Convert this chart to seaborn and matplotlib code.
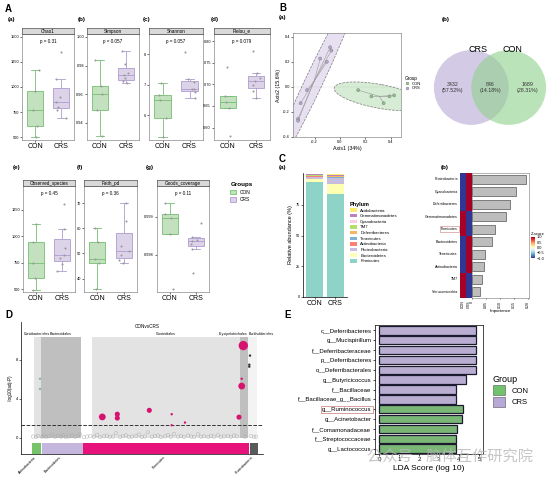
import numpy as np
import pandas as pd
import matplotlib
matplotlib.use("Agg")
import matplotlib.pyplot as plt
import seaborn as sns
from matplotlib.patches import Rectangle, Circle, Ellipse, Patch
from matplotlib.lines import Line2D

# --- A: alpha diversity values ---
groups = ["CON", "CRS"]
chao1_con = [506, 614, 769, 961, 1172]
chao1_crs = [695, 773, 805, 854, 900, 1084, 1351]
simpson_con = [0.931, 0.949, 0.960, 0.9657, 0.9835]
simpson_crs = [0.968, 0.969, 0.971, 0.9736, 0.975, 0.981, 0.990]
shannon_con = [5.31, 5.93, 6.52, 6.67, 7.05]
shannon_crs = [6.56, 6.78, 6.85, 6.88, 7.10, 7.18, 8.07]
pielou_con = [0.580, 0.645, 0.660, 0.674, 0.740]
pielou_crs = [0.668, 0.684, 0.698, 0.709, 0.714, 0.727, 0.777]
observed_con = [495, 611, 744, 950, 1115]
observed_crs = [674, 737, 800, 823, 890, 1068, 1307]
faith_con = [35.7, 46.3, 47.7, 54.6, 60.3]
faith_crs = [46.3, 47.4, 49.4, 51.0, 53.0, 63.0, 70.0]
goods_con = [0.99710, 0.99854, 0.99896, 0.99907, 0.99935]
goods_crs = [0.99753, 0.99815, 0.99829, 0.99837, 0.99840, 0.99848, 0.99883]
alpha_names = ["Chao1", "Simpson", "Shannon", "Pielou_e",
               "Observed_species", "Faith_pd", "Goods_coverage"]
alpha_p = ["p = 0.31", "p = 0.057", "p = 0.057", "p = 0.079",
           "p = 0.45", "p = 0.36", "p = 0.11"]

# --- B(a): PCoA coordinates ---
crs_ax1 = [-0.078, -0.068, -0.156, -0.104, -0.260, -0.310, -0.330, -0.330]
crs_ax2 = [0.316, 0.290, 0.226, 0.200, -0.026, -0.130, -0.255, -0.270]
con_ax1 = [0.143, 0.247, 0.343, 0.390, 0.426]
con_ax2 = [-0.026, -0.076, -0.130, -0.076, -0.068]

# --- B(b): Venn counts ---
venn_labels = ["3432\n(57.52%)", "846\n(14.18%)", "1689\n(28.31%)"]

# --- C(a): phylum composition ---
phylum_names = ["Firmicutes", "Bacteroidetes", "Proteobacteria", "Actinobacteria",
                "Tenericutes", "Deferribacteres", "TM7", "Cyanobacteria",
                "Gemmatimonadetes", "Acidobacteria"]
phylum_con = [94.0, 1.8, 2.3, 0.3, 0.3, 0.1, 0.2, 0.4, 0.5, 0.1]
phylum_crs = [83.7, 8.5, 4.6, 0.4, 0.5, 0.6, 0.3, 0.3, 0.8, 0.3]

# --- C(b): random forest importance + z-score ---
rf_phyla = ["Proteobacteria", "Cyanobacteria", "Deferribacteres", "Gemmatimonadetes",
            "Firmicutes", "Bacteroidetes", "Tenericutes", "Actinobacteria", "TM7",
            "Verrucomicrobia"]
rf_importance = [0.196, 0.158, 0.137, 0.124, 0.083, 0.071, 0.046, 0.042, 0.037, 0.027]
rf_z_con = [-1, -1, -1, 1, 1, -1, -1, -1, 1, 1]
rf_z_crs = [1, 1, 1, -1, -1, 1, 1, 1, -1, -1]

# --- D: manhattan plot ---
d_phyla = ["Actinobacteria", "Bacteroidetes", "Firmicutes", "Proteobacteria"]
d_phyla_n = [9, 41, 166, 8]
d_orders = ["Coriobacteriales", "Bacteroidales", "Clostridiales",
            "Erysipelotrichales", "Burkholderiales"]
d_order_start = [2.0, 8.7, 59.7, 208.0, 216.0]
d_order_end = [8.7, 49.0, 208.0, 216.0, 224.7]
gray_x = [1, 4, 6, 10, 12, 14, 17, 20, 23, 26, 29, 31, 34, 37, 40, 43, 46, 48,
          52, 55, 58, 62, 65, 68, 72, 75, 78, 81, 84, 88, 91, 94, 97, 100, 104,
          107, 110, 113, 116, 120, 123, 126, 129, 133, 136, 139, 142, 146, 149,
          152, 156, 159, 162, 166, 169, 172, 176, 179, 182, 186, 189, 192, 196,
          199, 202, 205, 213, 219, 222, 224]
gray_y = [0.10, 0.05, 0.18, 0.08, 0.22, 0.04, 0.12, 0.30, 0.06, 0.15, 0.09, 0.25,
          0.03, 0.11, 0.20, 0.07, 0.14, 0.35, 0.05, 0.10, 0.16, 0.08, 0.28, 0.04,
          0.12, 0.19, 0.06, 0.10, 0.45, 0.07, 0.13, 0.22, 0.05, 0.09, 0.17, 0.30,
          0.06, 0.11, 0.55, 0.08, 0.14, 0.20, 0.04, 0.12, 0.26, 0.07, 0.38, 0.09,
          0.15, 0.05, 0.21, 0.10, 0.06, 0.32, 0.08, 0.13, 0.05, 0.18, 0.09, 0.24,
          0.06, 0.11, 0.16, 0.07, 0.20, 0.12, 0.08, 0.15, 0.05, 0.10]
sig_x = [8, 8, 70.3, 85.3, 85.3, 117.3, 139.7, 139.7, 153, 207, 211.3, 209.7, 209.7,
         218, 217.3, 217.3]
sig_y = [6.05, 5.0, 2.12, 2.4, 2.0, 2.8, 2.4, 1.26, 1.54, 2.1, 9.47, 5.3, 6.05,
         8.44, 7.5, 7.3]
sig_phylum = ["Actinobacteria", "Actinobacteria"] + ["Firmicutes"] * 11 + ["Proteobacteria"] * 3
sig_abund = [1, 1, 3, 2, 2, 2, 1, 1, 1, 2, 5, 3, 1, 1, 1, 1]

# --- E: LEfSe ---
lda_taxa = ["c__Deferribacteres", "g__Mucispirillum", "f__Deferribacteraceae",
            "p__Deferribacteres", "o__Deferribacterales", "g__Butyricicoccus",
            "f__Bacillaceae", "f__Bacillaceae_g__Bacillus", "g__Ruminococcus",
            "g__Acinetobacter", "f__Comamonadaceae", "f__Streptococcaceae",
            "g__Lactococcus"]
lda_score = [4.83, 4.83, 4.83, 4.83, 4.83, 4.33, 3.83, 3.83, 4.18, 4.15, 3.90, 3.87, 3.83]
lda_group = ["CRS"] * 8 + ["CON"] * 5

W, H = 550, 478
con_fill, con_edge = "#BFE5B9", "#74BF72"
crs_fill, crs_edge = "#DCD0EC", "#AE9CD0"

plt.rcParams["font.family"] = ["Liberation Sans", "Noto Sans CJK SC"]
fig = plt.figure(figsize=(5.5, 4.78), dpi=100)


def add_ax(l, t, r, b):
    return fig.add_axes([l / W, 1 - b / H, (r - l) / W, (b - t) / H])


def ftext(x, y, s, **kw):
    fig.text(x / W, 1 - y / H, s, **kw)


# ===================== A =====================
alpha_data = [(chao1_con, chao1_crs), (simpson_con, simpson_crs), (shannon_con, shannon_crs),
              (pielou_con, pielou_crs), (observed_con, observed_crs), (faith_con, faith_crs),
              (goods_con, goods_crs)]
alpha_boxes = [(22, 34, 74, 140), (87, 34, 139, 140), (149, 34, 203, 140), (214, 34, 270, 140),
               (23, 186, 75, 292), (84, 186, 137, 292), (157, 186, 209, 292)]
alpha_ylim = [(475, 1525), (0.928, 1.002), (5.2, 8.66), (0.571, 0.817),
              (475, 1475), (34.7, 76.8), (0.99703, 0.9998)]
alpha_ticks = [[500, 750, 1000, 1250, 1500], [0.94, 0.96, 0.98, 1.00], [6, 7, 8],
               [0.60, 0.65, 0.70, 0.75, 0.80], [500, 750, 1000, 1250], [40, 50, 60, 70],
               [0.998, 0.999]]
alpha_fmt = ["{:.0f}", "{:.2f}", "{:.0f}", "{:.2f}", "{:.0f}", "{:.0f}", "{:.3f}"]

np.random.seed(3)
for i, name in enumerate(alpha_names):
    l, t, r, b = alpha_boxes[i]
    ax = add_ax(l, t, r, b)
    con, crs = alpha_data[i]
    df = pd.DataFrame({"group": ["CON"] * len(con) + ["CRS"] * len(crs), "value": con + crs})
    for g, fc, ec in [("CON", con_fill, con_edge), ("CRS", crs_fill, crs_edge)]:
        sub = df[df.group == g]
        sns.boxplot(data=sub, x="group", y="value", order=groups, color=fc, linecolor=ec,
                    width=0.6, showfliers=False, linewidth=0.6, ax=ax)
        sns.stripplot(data=sub, x="group", y="value", order=groups, color="#9A9A9A",
                      size=1.5, jitter=0.22, ax=ax)
    ax.set_ylim(*alpha_ylim[i])
    ax.set_yticks(alpha_ticks[i])
    ax.set_yticklabels([alpha_fmt[i].format(v) for v in alpha_ticks[i]])
    ax.set_xlabel("")
    ax.set_ylabel("")
    ax.tick_params(axis="y", labelsize=2.8, length=1.2, width=0.4, pad=1)
    ax.tick_params(axis="x", labelsize=5, length=1.2, width=0.4, pad=1)
    for s in ax.spines.values():
        s.set_color("#8A8A8A")
        s.set_linewidth(0.5)
    ax.text(0.5, 0.93, alpha_p[i], transform=ax.transAxes, ha="center", va="center",
            fontsize=3.3)
    sax = add_ax(l, t - 6, r, t)
    sax.set_facecolor("#D9D9D9")
    sax.set_xticks([])
    sax.set_yticks([])
    for s in sax.spines.values():
        s.set_color("#555555")
        s.set_linewidth(0.5)
    sax.text(0.5, 0.45, name, ha="center", va="center", fontsize=3.3, transform=sax.transAxes)

ftext(5, 9, "A", fontsize=7, fontweight="bold", va="center")
for lab, x, y in [("(a)", 8, 19), ("(b)", 78, 19), ("(c)", 143, 19), ("(d)", 211, 19),
                  ("(e)", 13, 167), ("(f)", 77, 167), ("(g)", 146, 167)]:
    ftext(x, y, lab, fontsize=4.5, fontweight="bold", va="center")

fig.legend(handles=[Patch(facecolor=con_fill, edgecolor=con_edge, lw=0.6, label="CON"),
                    Patch(facecolor=crs_fill, edgecolor=crs_edge, lw=0.6, label="CRS")],
           title="Groups", loc="upper left", bbox_to_anchor=(226 / W, 1 - 178 / H),
           frameon=False, fontsize=3.5, title_fontsize=4.5, handlelength=1.2,
           handleheight=1.0, labelspacing=0.5, alignment="left")
fig.legends[-1].get_title().set_fontweight("bold")

# ===================== B(a) PCoA =====================
ftext(279, 8, "B", fontsize=7, fontweight="bold", va="center")
ftext(279, 18, "(a)", fontsize=4.5, fontweight="bold", va="center")
ftext(442, 20, "(b)", fontsize=4.5, fontweight="bold", va="center")

pax = add_ax(293, 33, 401, 137)
pcoa = pd.DataFrame({"Axis1": crs_ax1 + con_ax1, "Axis2": crs_ax2 + con_ax2,
                     "Group": ["CRS"] * len(crs_ax1) + ["CON"] * len(con_ax1)})
pcol = {"CON": "#8CCB86", "CRS": "#B9A8D8"}
for g in ["CRS", "CON"]:
    sub = pcoa[pcoa.Group == g]
    xy = sub[["Axis1", "Axis2"]].values
    cen = xy.mean(axis=0)
    cov = np.cov(xy.T)
    vals, vecs = np.linalg.eigh(cov)
    ang = np.degrees(np.arctan2(vecs[1, 1], vecs[0, 1]))
    k = 3.1
    ell = Ellipse(cen, 2 * k * np.sqrt(vals[1]), 2 * k * np.sqrt(vals[0]), angle=ang,
                  facecolor=pcol[g], alpha=0.35, edgecolor="none")
    pax.add_patch(ell)
    ell2 = Ellipse(cen, 2 * k * np.sqrt(vals[1]), 2 * k * np.sqrt(vals[0]), angle=ang,
                   facecolor="none", edgecolor="#7A7A7A", lw=0.5, ls="--")
    pax.add_patch(ell2)
    for px, py in xy:
        pax.plot([cen[0], px], [cen[1], py], color="#9A9A9A", lw=0.4)
sns.scatterplot(data=pcoa, x="Axis1", y="Axis2", hue="Group", palette=pcol, s=5,
                edgecolor="#777777", linewidth=0.3, legend=False, ax=pax)
pax.axhline(0, color="#DDDDDD", lw=0.3, zorder=0)
pax.set_xlim(-0.37, 0.48)
pax.set_ylim(-0.4, 0.43)
pax.set_xticks([-0.2, 0.0, 0.2, 0.4])
pax.set_xticklabels(["-0.2", "0.0", "0.2", "0.4"])
pax.set_yticks([-0.4, -0.2, 0.0, 0.2, 0.4])
pax.set_yticklabels(["-0.4", "-0.2", "0.0", "0.2", "0.4"])
pax.tick_params(labelsize=2.8, length=1.2, width=0.4, pad=1)
pax.set_xlabel("Axis1 (34%)", fontsize=3.8, labelpad=1.5)
pax.set_ylabel("Axis2 (15.6%)", fontsize=3.8, labelpad=1.5)
for s in pax.spines.values():
    s.set_color("#8A8A8A")
    s.set_linewidth(0.5)
fig.legend(handles=[Line2D([], [], marker="o", ls="", color=pcol["CON"], mec="#777777",
                           ms=2, mew=0.3, label="CON"),
                    Line2D([], [], marker="o", ls="", color=pcol["CRS"], mec="#777777",
                           ms=2, mew=0.3, label="CRS")],
           title="Group", loc="upper left", bbox_to_anchor=(402 / W, 1 - 73 / H),
           frameon=False, fontsize=3, title_fontsize=3.3, handlelength=0.8,
           labelspacing=0.15, alignment="left", borderpad=0.2)

# ===================== B(b) Venn =====================
vax = add_ax(430, 40, 550, 135)
vax.set_xlim(-1.6, 1.6)
vax.set_ylim(-1.27, 1.27)
vax.set_aspect("equal")
vax.axis("off")
vax.add_patch(Circle((-0.5, 0), 1.0, facecolor="#C5B9DE", alpha=0.75, edgecolor="none"))
vax.add_patch(Circle((0.5, 0), 1.0, facecolor="#8FD18B", alpha=0.6, edgecolor="none"))
for xpos, lab in zip([-1.0, 0.0, 1.0], venn_labels):
    vax.text(xpos, 0, lab, ha="center", va="center", fontsize=3.8, color="#333333",
             linespacing=1.3)
ftext(478, 50, "CRS", fontsize=6.5, ha="center", va="center")
ftext(512, 50, "CON", fontsize=6.5, ha="center", va="center")

# ===================== C(a) stacked bar =====================
ftext(279, 159, "C", fontsize=7, fontweight="bold", va="center")
ftext(279, 167, "(a)", fontsize=4.5, fontweight="bold", va="center")
ftext(441, 168, "(b)", fontsize=4.5, fontweight="bold", va="center")

phylum_colors = {"Firmicutes": "#8DD3C7", "Bacteroidetes": "#FFFFB3",
                 "Proteobacteria": "#C8BDDD", "Actinobacteria": "#FB8072",
                 "Tenericutes": "#80B1D3", "Deferribacteres": "#FDB462",
                 "TM7": "#B3DE69", "Cyanobacteria": "#FCCDE5",
                 "Gemmatimonadetes": "#BC80BD", "Acidobacteria": "#FFED6F"}
cax_bar = add_ax(303, 173, 347, 297)
comp = pd.DataFrame({"CON": phylum_con, "CRS": phylum_crs}, index=phylum_names)
bottom = np.zeros(2)
for ph in phylum_names:
    vals = comp.loc[ph, groups].values
    cax_bar.bar(groups, vals, bottom=bottom, width=0.8, color=phylum_colors[ph],
                edgecolor="none")
    bottom = bottom + vals
cax_bar.set_xlim(-0.55, 1.55)
cax_bar.set_ylim(0, 101)
cax_bar.set_yticks([0, 25, 50, 75])
cax_bar.tick_params(axis="y", labelsize=2.8, length=1.2, width=0.4, pad=1)
cax_bar.tick_params(axis="x", labelsize=5, length=1.2, width=0.4, pad=1)
cax_bar.set_ylabel("Relative abundance (%)", fontsize=4, labelpad=2)
sns.despine(ax=cax_bar)
for s in cax_bar.spines.values():
    s.set_linewidth(0.5)
fig.legend(handles=[Patch(facecolor=phylum_colors[p], label=p) for p in phylum_names[::-1]],
           title="Phylum", loc="upper left", bbox_to_anchor=(346 / W, 1 - 198 / H),
           frameon=False, fontsize=3.1, title_fontsize=4, handlelength=1.6,
           handleheight=0.9, labelspacing=0.32, alignment="left")
fig.legends[-1].get_title().set_fontweight("bold")

# ===================== C(b) heatmap + importance =====================
hax = add_ax(460, 173, 472, 298)
bax = add_ax(472, 173, 529, 298)
cbax = add_ax(531, 237, 535, 258)
zdf = pd.DataFrame({"CON": rf_z_con, "CRS": rf_z_crs}, index=rf_phyla)
sns.heatmap(zdf, cmap="RdYlBu_r", vmin=-1, vmax=1, ax=hax, cbar_ax=cbax,
            xticklabels=True, yticklabels=True,
            cbar_kws={"ticks": [1, 0.5, 0, -0.5, -1]})
hax.tick_params(axis="x", labelsize=2.6, labelrotation=90, length=0, pad=1.5)
hax.tick_params(axis="y", labelsize=2.6, labelrotation=0, length=0, pad=1.5)
for tl in hax.get_yticklabels():
    if tl.get_text() == "Firmicutes":
        tl.set_bbox(dict(facecolor="none", edgecolor="#C87A7A", lw=0.4, pad=0.6))
cbax.tick_params(labelsize=2.8, length=0, pad=1)
cbax.set_title("Z-score", fontsize=3, pad=1.5, loc="left")

imp = pd.DataFrame({"phylum": rf_phyla, "importance": rf_importance})
sns.barplot(data=imp, x="importance", y="phylum", color="#BDBDBD", edgecolor="#555555",
            linewidth=0.5, width=0.75, ax=bax)
bax.set_ylim(9.5, -0.5)
bax.set_xlim(0, 0.205)
bax.set_yticks([])
bax.set_xticks([0, 0.05, 0.10, 0.15, 0.20])
bax.set_xticklabels(["0", "0.05", "0.10", "0.15", "0.20"], rotation=90)
bax.tick_params(axis="x", labelsize=2.6, length=1, width=0.4, pad=1)
bax.set_ylabel("")
bax.set_xlabel("Importance", fontsize=3.2, labelpad=1)
for s in bax.spines.values():
    s.set_linewidth(0.4)
    s.set_color("#777777")

# ===================== D manhattan =====================
ftext(5, 315, "D", fontsize=7, fontweight="bold", va="center")
dax = add_ax(21, 322, 263, 454)
label_ha = ["center", "center", "center", "right", "left"]
for i, oname in enumerate(d_orders):
    shade = ["#E3E3E3", "#BFBFBF", "#E3E3E3", "#BFBFBF", "#F3F3F3"][i]
    dax.add_patch(Rectangle((d_order_start[i], -0.1), d_order_end[i] - d_order_start[i],
                            10.5, facecolor=shade, edgecolor="none", zorder=0))
    if label_ha[i] == "right":
        lx = d_order_end[i] - 0.5
    elif label_ha[i] == "left":
        lx = d_order_start[i] + 0.5
    else:
        lx = (d_order_start[i] + d_order_end[i]) / 2
    dax.text(lx, 10.7, oname, ha=label_ha[i], va="center", fontsize=2.6, clip_on=False)
gray = pd.DataFrame({"x": gray_x, "y": gray_y})
sns.scatterplot(data=gray, x="x", y="y", s=6, facecolor="none", edgecolor="#AAAAAA",
                linewidth=0.3, legend=False, ax=dax)
sig = pd.DataFrame({"x": sig_x, "y": sig_y, "phylum": sig_phylum, "abund": sig_abund})
sig_pal = {"Actinobacteria": "#8FB3A0", "Firmicutes": "#D6136F", "Proteobacteria": "#333333"}
sns.scatterplot(data=sig, x="x", y="y", hue="phylum", palette=sig_pal, size="abund",
                sizes=(3, 45), edgecolor="none", legend=False, ax=dax, zorder=3)
dax.axhline(1.3, color="#333333", lw=0.7, ls="--")
starts = np.concatenate([[0], np.cumsum(d_phyla_n)[:-1]]) + np.arange(len(d_phyla_n)) * 0.6
band_cols = ["#77C36C", "#C5B6DD", "#E8137A", "#5A5A5A"]
for i, ph in enumerate(d_phyla):
    dax.bar(starts[i], 1.1, width=d_phyla_n[i], bottom=-1.65, align="edge",
            color=band_cols[i], edgecolor="none")
dax.set_xlim(-11, 231)
dax.set_ylim(-1.7, 11.9)
dax.set_yticks([0, 4, 8])
dax.set_xticks(starts + np.array(d_phyla_n) / 2)
dax.set_xticklabels(d_phyla, rotation=45, ha="right", fontsize=2.6)
dax.tick_params(axis="y", labelsize=3, length=1.2, width=0.4, pad=1)
dax.tick_params(axis="x", length=0, pad=1)
dax.set_xlabel("")
dax.set_ylabel("-log10(adj-P)", fontsize=3.3, labelpad=2)
dax.text(115, 11.45, "CONvsCRS", ha="center", va="center", fontsize=3.3)
sns.despine(ax=dax)
for s in dax.spines.values():
    s.set_linewidth(0.5)

# ===================== E LEfSe =====================
ftext(284, 315, "E", fontsize=7, fontweight="bold", va="center")
eax = add_ax(375, 325, 483, 454)
lda = pd.DataFrame({"taxon": lda_taxa, "score": lda_score, "Group": lda_group})
epal = {"CON": "#70C26C", "CRS": "#B7A8D7"}
sns.barplot(data=lda, x="score", y="taxon", hue="Group", palette=epal, dodge=False,
            width=0.85, edgecolor="#1C1A2E", linewidth=0.9, legend=False, ax=eax)
eax.set_xlim(-0.2, 5.2)
eax.set_ylim(12.55, -0.55)
eax.set_xticks([0, 1, 2, 3, 4, 5])
eax.tick_params(axis="x", labelsize=4.5, length=1.5, width=0.5, pad=1)
eax.tick_params(axis="y", labelsize=4.3, length=1.5, width=0.5, pad=1)
eax.set_ylabel("")
eax.set_xlabel("LDA Score (log 10)", fontsize=6, labelpad=2)
for s in eax.spines.values():
    s.set_linewidth(0.5)
for tl in eax.get_yticklabels():
    if tl.get_text() == "g__Ruminococcus":
        tl.set_bbox(dict(facecolor="none", edgecolor="#C87A7A", lw=0.5, pad=0.8))
fig.legend(handles=[Patch(facecolor=epal["CON"], edgecolor="#555555", lw=0.4, label="CON"),
                    Patch(facecolor=epal["CRS"], edgecolor="#555555", lw=0.4, label="CRS")],
           title="Group", loc="upper left", bbox_to_anchor=(486 / W, 1 - 368 / H),
           frameon=False, fontsize=5.5, title_fontsize=6.5, handlelength=1.6,
           handleheight=1.6, labelspacing=0.2, alignment="left")

# watermark (light, sits over the axis like in the source)
ftext(450, 456, "公众号 · 脑体互作研究院", fontsize=11, color="#B8B8B8", alpha=0.8,
      ha="center", va="center")

fig.savefig("out.png", dpi=100)
